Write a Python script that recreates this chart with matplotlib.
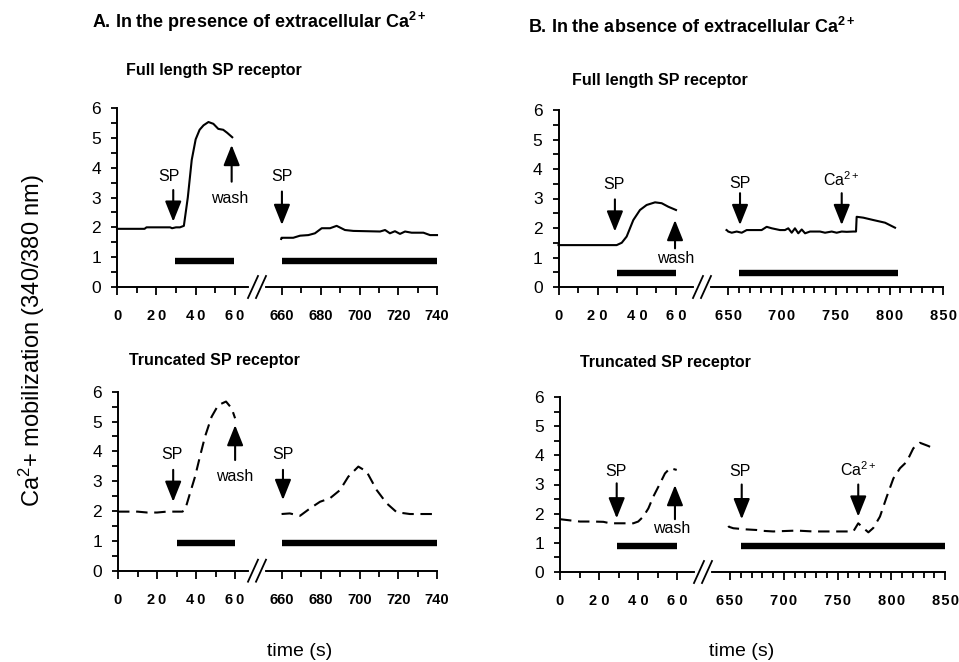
import numpy as np
import matplotlib
matplotlib.use("Agg")
import matplotlib.pyplot as plt

plt.rcParams["font.family"] = ["Liberation Sans", "DejaVu Sans"]
plt.rcParams["mathtext.fontset"] = "custom"
plt.rcParams["mathtext.rm"] = "Liberation Sans"
plt.rcParams["mathtext.bf"] = "Liberation Sans:bold"
plt.rcParams["mathtext.it"] = "Liberation Sans:italic"

# ---- A: with extracellular Ca2+ ----
a_full_t_early = [0, 14, 15, 27, 28, 30, 32, 34, 36, 38, 40, 42, 44, 46.5, 49, 51.5, 54, 56, 58.6]
a_full_y_early = [1.95, 1.95, 2.0, 2.0, 1.97, 2.0, 2.0, 2.05, 3.0, 4.26, 4.95, 5.27, 5.42, 5.53, 5.47, 5.3, 5.27, 5.17, 5.02]
a_full_t_late = [649.5, 653.8, 665.8, 669.3, 673.6, 677, 680.5, 684.8, 688.2, 692.5, 696.8,
                 710.6, 713.2, 715.7, 718.3, 720.9, 723.5, 726.9, 733, 736.4, 740]
a_full_y_late = [1.61, 1.65, 1.65, 1.72, 1.74, 1.80, 1.97, 1.97, 2.05, 1.91, 1.88,
                 1.86, 1.91, 1.80, 1.87, 1.78, 1.86, 1.82, 1.82, 1.74, 1.74]

a_trunc_t_early = [0, 10, 15, 20, 25, 33, 34.4, 36.9, 39.5, 42, 44.6, 48, 51.4, 55.4, 58.3, 60.9]
a_trunc_y_early = [1.98, 1.98, 1.95, 1.95, 1.98, 1.98, 2.04, 2.59, 3.15, 3.82, 4.49, 5.16, 5.55, 5.67, 5.44, 5.11]
a_trunc_t_late = [654.7, 664, 669.3, 674.5, 679.6, 684.8, 689.9, 694.2, 699.4, 703.7, 708.9, 714, 719.2, 726, 740]
a_trunc_y_late = [1.90, 1.92, 1.84, 2.09, 2.31, 2.43, 2.70, 3.15, 3.49, 3.32, 2.70, 2.26, 1.96, 1.90, 1.90]

# ---- B: without extracellular Ca2+ ----
b_full_t_early = [0, 29.7, 32.3, 34.8, 38.2, 41.6, 45, 49.3, 52.7, 56.1, 60]
b_full_y_early = [1.42, 1.42, 1.50, 1.71, 2.27, 2.61, 2.78, 2.87, 2.84, 2.72, 2.61]
b_full_t_late = [629.9, 636, 648.5, 653.2, 657.8, 662.5, 667.1, 681, 685.7, 690.4, 698.1, 702.7,
                 705.8, 709, 712, 715.1, 718.3, 721.4, 726, 735.3, 740, 746.2, 750.8, 755.5,
                 760.1, 766.3, 768.8, 769.4, 775.6, 784.9, 795.8, 805.1]
b_full_y_late = [1.93, 1.92, 1.88, 1.84, 1.88, 1.84, 1.93, 1.93, 2.04, 1.99, 1.93, 1.93,
                 1.99, 1.84, 1.99, 1.82, 1.95, 1.82, 1.88, 1.88, 1.84, 1.88, 1.84, 1.88,
                 1.87, 1.88, 1.88, 2.38, 2.35, 2.27, 2.18, 2.01]

b_trunc_t_early = [0, 10.2, 17, 22.2, 25.6, 37.5, 40, 42.6, 45.2, 47.7, 51.2, 53.7, 56.3, 59.7]
b_trunc_y_early = [1.81, 1.73, 1.73, 1.72, 1.67, 1.67, 1.73, 1.90, 2.18, 2.58, 3.04, 3.38, 3.56, 3.50]
b_trunc_t_late = [631.4, 637.6, 653.1, 665.5, 674.8, 681, 690.3, 712, 727.5, 752.3, 764.7, 769.3,
                  774, 778.7, 783.3, 789.5, 795.8, 802, 808.2, 814.4, 820.5, 826.7, 834.5, 839.1]
b_trunc_y_late = [1.58, 1.55, 1.50, 1.46, 1.44, 1.41, 1.39, 1.42, 1.39, 1.39, 1.39, 1.67,
                  1.51, 1.36, 1.51, 1.90, 2.58, 3.21, 3.56, 3.78, 4.24, 4.43, 4.32, 4.24]

# treatment bars: (start, end) in s, and bar level
a_full_bars = [(29.5, 59.7), (659, 740)]
a_full_bar_level = 0.88
a_trunc_bars = [(30, 61), (659, 740)]
a_trunc_bar_level = 0.92
b_full_bars = [(30, 60.7), (660, 807.6)]
b_full_bar_level = 0.48
b_trunc_bars = [(29.3, 61), (660, 850)]
b_trunc_bar_level = 0.89

# arrows: (time, y tail, y tip, label, label x, label y)
a_full_arrows = [(28.6, 3.25, 2.19, "SP", 26.5, 3.72),
                 (58.3, 3.53, 4.76, "wash", 57.4, 2.98),
                 (659, 3.2, 2.08, "SP", 657.5, 3.72)]
a_trunc_arrows = [(28.3, 3.38, 2.31, "SP", 27.5, 3.88),
                  (61.5, 3.71, 4.88, "wash", 60, 3.15),
                  (660.5, 3.38, 2.37, "SP", 660.5, 3.9)]
b_full_arrows = [(28.8, 2.97, 1.88, "SP", 28.5, 3.49),
                 (59.5, 1.31, 2.27, "wash", 61.2, 0.97),
                 (660.9, 3.18, 2.1, "SP", 660.9, 3.52),
                 (755.5, 3.18, 2.1, "Ca$^{2+}$", 755.5, 3.65)]
b_trunc_arrows = [(29, 3.04, 1.84, "SP", 28.5, 3.44),
                  (58.8, 1.81, 2.98, "wash", 57.1, 1.50),
                  (660.9, 3.0, 1.81, "SP", 659.5, 3.44),
                  (769.3, 3.0, 1.9, "Ca$^{2+}$", 769.3, 3.52)]

a_major = [0, 20, 40, 60, 660, 680, 700, 720, 740]
a_labels = ["0", "2\u20090", "4\u20090", "6\u20090", "660", "680", "700", "720", "740"]
a_minor = [10, 30, 50, 670, 690, 710, 730]
b_major = [0, 20, 40, 60, 650, 700, 750, 800, 850]
b_labels = ["0", "2 0", "4 0", "6 0", "6\u200a5\u200a0", "7\u200a0\u200a0",
            "7\u200a5\u200a0", "8\u200a0\u200a0", "8\u200a5\u200a0"]
b_minor = [10, 30, 50] + [t for t in range(660, 850, 10) if t % 50]

W, H = 959, 662
fig = plt.figure(figsize=(W / 100, H / 100), dpi=100)


def piecewise(t_knots, px_knots):
    s0 = (px_knots[1] - px_knots[0]) / (t_knots[1] - t_knots[0])
    s1 = (px_knots[-1] - px_knots[-2]) / (t_knots[-1] - t_knots[-2])
    tk = np.r_[t_knots[0] - 1e4, t_knots, t_knots[-1] + 1e4]
    uk = np.r_[px_knots[0] - 1e4 * s0, px_knots, px_knots[-1] + 1e4 * s1]
    return (lambda t: np.interp(t, tk, uk)), (lambda u: np.interp(u, uk, tk))


def make_panel(box, t_knots, px_knots, xmax, major, labels, minor, brk):
    left, right, top, bottom = box
    ax = fig.add_axes([left / W, 1 - bottom / H, (right - left) / W, (bottom - top) / H])
    ax.set_xscale("function", functions=piecewise(t_knots, px_knots))
    ax.set_xlim(0, xmax)
    ax.set_ylim(0, 6)
    for side in ("top", "right"):
        ax.spines[side].set_visible(False)
    for side in ("left", "bottom"):
        ax.spines[side].set_linewidth(1.4)
    ax.set_xticks(major, labels)
    ax.set_xticks(minor, minor=True)
    ax.set_yticks(range(7))
    ax.set_yticks(np.arange(0.5, 6, 1), minor=True)
    ax.tick_params(axis="x", which="major", length=6, width=1.3, pad=10,
                   labelsize=10.5)
    ax.tick_params(axis="x", which="minor", length=4.5, width=1.3)
    ax.tick_params(axis="y", which="both", length=4.5, width=1.3, pad=7, labelsize=12.5)
    for lab in ax.get_xticklabels():
        lab.set_fontweight("bold")
    ax.patch.set_visible(False)

    # axis break "//"
    w, h = right - left, bottom - top
    bx = (brk - left) / w
    ax.plot([bx - 6 / w, bx + 6 / w], [0, 0], color="white", lw=3,
            transform=ax.transAxes, clip_on=False, zorder=5)
    for off in (-4, 4):
        ax.plot([bx + (off - 5) / w, bx + (off + 5) / w], [-11 / h, 11 / h],
                color="black", lw=1.3, transform=ax.transAxes, clip_on=False, zorder=6)
    return ax


def draw(ax, segments, style, bars, level, arrows):
    for t, y in segments:
        ax.plot(t, y, color="black", lw=1.5, linestyle=style, dash_capstyle="butt",
                clip_on=False)
    for start, end in bars:
        ax.plot([start, end], [level, level], color="black", lw=4.6,
                solid_capstyle="butt")
    for t, tail, tip, label, lx, ly in arrows:
        ax.annotate("", xy=(t, tip), xytext=(t, tail),
                    arrowprops=dict(arrowstyle="-|>,head_length=1.25,head_width=0.5",
                                    mutation_scale=10, lw=1.5, color="black",
                                    shrinkA=0, shrinkB=0))
        ax.text(lx, ly, label, ha="center", va="center", fontsize=11.5)


dashed = (0, (5.5, 3.2))

ax1 = make_panel((117, 437, 108, 287), [0, 60, 660, 740], [0, 118, 165, 320],
                 740, a_major, a_labels, a_minor, 257)
draw(ax1, [(a_full_t_early, a_full_y_early), (a_full_t_late, a_full_y_late)], "-",
     a_full_bars, a_full_bar_level, a_full_arrows)

ax2 = make_panel((118, 437, 391.7, 570.7), [0, 60, 660, 740], [0, 117, 164, 319],
                 740, a_major, a_labels, a_minor, 257)
draw(ax2, [(a_trunc_t_early, a_trunc_y_early), (a_trunc_t_late, a_trunc_y_late)], dashed,
     a_trunc_bars, a_trunc_bar_level, a_trunc_arrows)

ax3 = make_panel((558.5, 943.3, 110, 287), [0, 60, 650, 850], [0, 117.5, 169.8, 384.8],
                 850, b_major, b_labels, b_minor, 702)
draw(ax3, [(b_full_t_early, b_full_y_early), (b_full_t_late, b_full_y_late)], "-",
     b_full_bars, b_full_bar_level, b_full_arrows)

ax4 = make_panel((560, 945, 397, 572), [0, 60, 650, 850], [0, 117.3, 170, 385],
                 850, b_major, b_labels, b_minor, 703)
draw(ax4, [(b_trunc_t_early, b_trunc_y_early), (b_trunc_t_late, b_trunc_y_late)], dashed,
     b_trunc_bars, b_trunc_bar_level, b_trunc_arrows)

# titles and labels
fig.text(92 / W, 1 - 22 / H, r"A. In the presence of extracellular Ca$^{\mathbf{2+}}$",
         fontsize=13, fontweight="bold", va="center")
fig.text(528 / W, 1 - 27 / H, r"B. In the absence of extracellular Ca$^{\mathbf{2+}}$",
         fontsize=13, fontweight="bold", va="center")
fig.text(126 / W, 1 - 71 / H, "Full length SP receptor", fontsize=11.5,
         fontweight="bold", va="center")
fig.text(572 / W, 1 - 81 / H, "Full length SP receptor", fontsize=11.5,
         fontweight="bold", va="center")
fig.text(129 / W, 1 - 361 / H, "Truncated SP receptor", fontsize=11.5,
         fontweight="bold", va="center")
fig.text(580 / W, 1 - 363 / H, "Truncated SP receptor", fontsize=11.5,
         fontweight="bold", va="center")
fig.text(32 / W, 1 - 340 / H, "Ca$^{2}$+ mobilization (340/380 nm)", fontsize=17,
         rotation=90, ha="center", va="center")
fig.text(300 / W, 1 - 652 / H, "time (s)", fontsize=14, ha="center", va="center")
fig.text(742 / W, 1 - 652 / H, "time (s)", fontsize=14, ha="center", va="center")

fig.savefig("out.png", dpi=100)
